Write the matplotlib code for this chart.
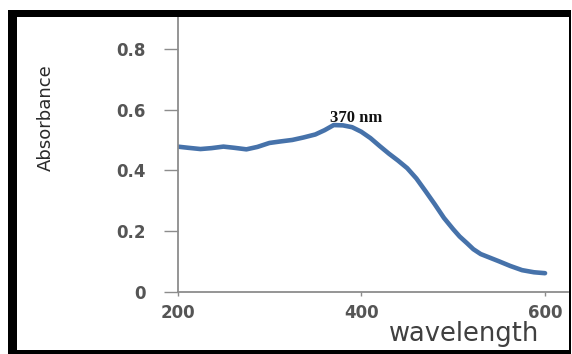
import matplotlib
matplotlib.use("Agg")
import matplotlib.pyplot as plt
from matplotlib.patches import Rectangle

# absorbance spectrum
wavelength = [200, 212, 225, 237, 250, 262, 275, 287, 300, 312, 325, 337, 350, 360, 370, 380, 390, 400,
			  410, 420, 430, 440, 450, 460, 470, 480, 490, 500, 507, 515, 522, 530, 540, 550, 562, 575, 588, 600]
absorbance = [0.478, 0.474, 0.470, 0.473, 0.478, 0.474, 0.469, 0.477, 0.490, 0.495, 0.500, 0.508, 0.518,
			  0.532, 0.549, 0.548, 0.542, 0.527, 0.506, 0.480, 0.455, 0.432, 0.407, 0.373, 0.331, 0.288,
			  0.243, 0.206, 0.182, 0.160, 0.140, 0.124, 0.112, 0.100, 0.085, 0.071, 0.064, 0.061]

x_ticks = [200, 400, 600]
y_ticks = [0, 0.2, 0.4, 0.6, 0.8]
y_tick_labels = ["0", "0.2", "0.4", "0.6", "0.8"]
peak_label = "370 nm"

W, H = 572, 354
fig = plt.figure(figsize=(W / 100, H / 100), dpi=100)

def px_box(x0, y0, x1, y1):
	# pixel box (top-left origin) -> figure fraction rect
	return (x0 / W, 1 - y1 / H, (x1 - x0) / W, (y1 - y0) / H)

ax = fig.add_axes(px_box(177.5, 17, 568, 291.7))

ax.plot(wavelength, absorbance, color="#4672aa", lw=3.3, solid_capstyle="round", solid_joinstyle="round")
ax.text(394, 0.572, peak_label, ha="center", va="center", fontsize=12, fontweight="bold",
		family=["Liberation Serif", "DejaVu Serif"], color="#111111")

ax.set_xlim(200, 625)
ax.set_ylim(0, 0.905)
ax.set_xticks(x_ticks)
ax.set_xticklabels([str(v) for v in x_ticks])
ax.set_yticks(y_ticks)
ax.set_yticklabels(y_tick_labels)

for side in ["top", "right"]:
	ax.spines[side].set_visible(False)
for side in ["left", "bottom"]:
	ax.spines[side].set_color("#8c8c8c")
	ax.spines[side].set_linewidth(1.3)

ax.tick_params(axis="y", direction="out", length=10, width=1, color="#8c8c8c", pad=13)
ax.tick_params(axis="x", direction="out", length=3, width=1, color="#8c8c8c", pad=6)
for lab in ax.get_xticklabels() + ax.get_yticklabels():
	lab.set_fontsize(12)
	lab.set_fontweight("bold")
	lab.set_color("#555555")
	lab.set_family("DejaVu Sans")

fig.text(464 / W, 1 - 334 / H, "wavelength", ha="center", va="center", fontsize=18.5,
		 color="#404040", family="DejaVu Sans")
fig.text(46 / W, 1 - 117.5 / H, "Absorbance", ha="center", va="center", rotation=90, fontsize=13,
		 color="#2a2a2a", family="DejaVu Sans")

# black frame round the figure
for box in [(8, 10, 17, 354), (8, 10, 571, 17), (569, 10, 571, 354), (8, 350, 571, 354)]:
	x, y, w, h = px_box(*box)
	fig.add_artist(Rectangle((x, y), w, h, transform=fig.transFigure, facecolor="black", edgecolor="none"))

fig.savefig("out.png", dpi=100)
